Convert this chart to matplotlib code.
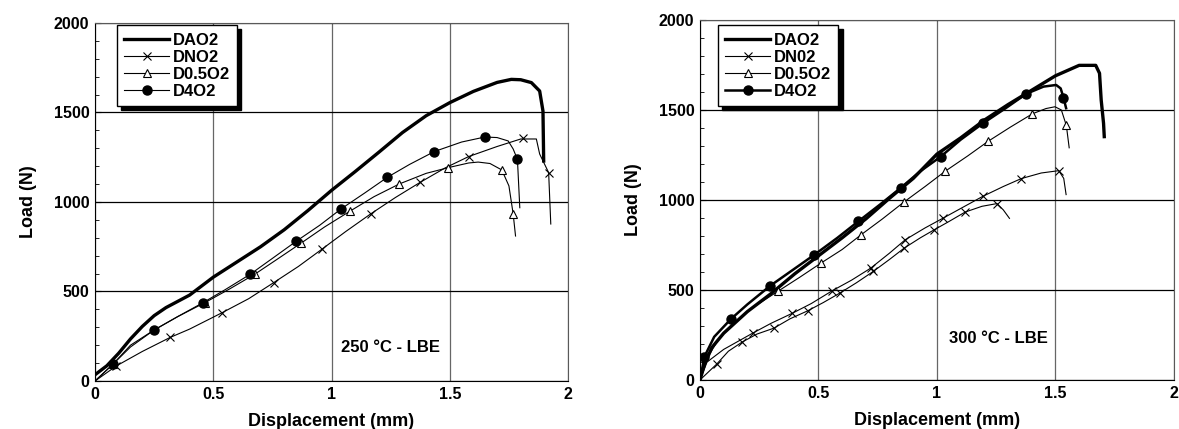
import numpy as np
import matplotlib
matplotlib.use("Agg")
import matplotlib.pyplot as plt
from matplotlib.lines import Line2D
from matplotlib.ticker import MultipleLocator

plt.rcParams['font.family'] = ['Liberation Sans', 'DejaVu Sans']
plt.rcParams['font.weight'] = 'bold'

# ---- 250 C data ----
dao2_250_x = [0, 0.05, 0.1, 0.15, 0.2, 0.25, 0.3, 0.4, 0.45, 0.5, 0.6, 0.7, 0.8, 0.9, 1.0, 1.1, 1.2, 1.3,
              1.4, 1.5, 1.6, 1.7, 1.76, 1.8, 1.845, 1.88, 1.894, 1.897]
dao2_250_y = [35, 85, 155, 235, 305, 365, 410, 480, 530, 580, 665, 750, 845, 952, 1065, 1170, 1278, 1388,
              1482, 1555, 1618, 1668, 1685, 1683, 1667, 1620, 1508, 1229]

dno2_250_x = [0, 0.09, 0.2, 0.317, 0.4, 0.538, 0.65, 0.756, 0.86, 0.96, 1.06, 1.165, 1.27, 1.375, 1.48,
              1.58, 1.7, 1.8, 1.866, 1.88, 1.918, 1.927]
dno2_250_y = [0, 84, 165, 243, 290, 382, 460, 550, 640, 737, 835, 933, 1025, 1110, 1190, 1254, 1310,
              1352, 1352, 1268, 1164, 877]
dno2_250_mx = [0.09, 0.317, 0.538, 0.756, 0.96, 1.165, 1.375, 1.58, 1.81, 1.918]
dno2_250_my = [84, 243, 382, 550, 737, 933, 1110, 1254, 1356, 1164]

d05o2_250_x = [0, 0.075, 0.15, 0.25, 0.35, 0.465, 0.57, 0.676, 0.77, 0.87, 0.97, 1.077, 1.18, 1.287, 1.4,
               1.5, 1.58, 1.62, 1.67, 1.72, 1.75, 1.768, 1.778]
d05o2_250_y = [0, 93, 190, 285, 360, 438, 515, 597, 680, 769, 860, 948, 1030, 1101, 1160, 1194, 1218,
               1223, 1215, 1179, 1090, 933, 810]
d05o2_250_mx = [0.075, 0.465, 0.676, 0.87, 1.077, 1.287, 1.494, 1.72, 1.768]
d05o2_250_my = [93, 438, 597, 769, 948, 1101, 1192, 1179, 933]

d4o2_250_x = [0, 0.075, 0.15, 0.25, 0.35, 0.457, 0.55, 0.657, 0.75, 0.85, 0.95, 1.04, 1.14, 1.236, 1.33,
              1.435, 1.55, 1.648, 1.7, 1.747, 1.768, 1.786, 1.796]
d4o2_250_y = [0, 93, 200, 285, 360, 438, 510, 597, 685, 780, 870, 961, 1050, 1138, 1210, 1282, 1335,
              1363, 1360, 1341, 1296, 1238, 968]
d4o2_250_mx = [0.075, 0.25, 0.457, 0.657, 0.85, 1.04, 1.236, 1.435, 1.648, 1.786]
d4o2_250_my = [93, 285, 438, 597, 780, 961, 1138, 1282, 1363, 1238]

# ---- 300 C data ----
dao2_300_x = [0, 0.02, 0.05, 0.1, 0.15, 0.2, 0.3, 0.4, 0.5, 0.6, 0.7, 0.8, 0.9, 1.0, 1.1, 1.2, 1.3, 1.4,
              1.5, 1.6, 1.67, 1.686, 1.693, 1.703, 1.706]
dao2_300_y = [0, 90, 180, 260, 320, 380, 480, 590, 690, 790, 895, 1010, 1120, 1255, 1345, 1444, 1530,
              1610, 1690, 1748, 1748, 1704, 1556, 1426, 1352]

d4o2_300_x = [0, 0.019, 0.06, 0.13, 0.2, 0.296, 0.39, 0.483, 0.58, 0.668, 0.76, 0.847, 0.93, 1.016, 1.1,
              1.193, 1.29, 1.377, 1.45, 1.503, 1.522, 1.534, 1.545]
d4o2_300_y = [0, 130, 240, 338, 420, 523, 610, 696, 790, 881, 975, 1067, 1160, 1241, 1335, 1425, 1510,
              1590, 1630, 1639, 1620, 1569, 1510]
d4o2_300_mx = [0.019, 0.13, 0.296, 0.483, 0.668, 0.847, 1.016, 1.193, 1.377, 1.534]
d4o2_300_my = [130, 338, 523, 696, 881, 1067, 1241, 1425, 1590, 1569]

d05o2_300_x = [0, 0.03, 0.08, 0.15, 0.22, 0.328, 0.42, 0.51, 0.6, 0.68, 0.77, 0.859, 0.95, 1.035, 1.13,
               1.217, 1.31, 1.403, 1.46, 1.498, 1.525, 1.546, 1.558]
d05o2_300_y = [0, 120, 230, 320, 400, 492, 570, 649, 725, 807, 895, 987, 1075, 1160, 1245, 1327, 1405,
               1479, 1508, 1518, 1500, 1414, 1290]
d05o2_300_mx = [0.328, 0.51, 0.68, 0.859, 1.035, 1.217, 1.403, 1.546]
d05o2_300_my = [492, 649, 807, 987, 1160, 1327, 1479, 1414]

dn02a_300_x = [0, 0.03, 0.1, 0.222, 0.3, 0.39, 0.47, 0.557, 0.64, 0.72, 0.8, 0.866, 0.95, 1.027, 1.11,
               1.193, 1.28, 1.356, 1.44, 1.514, 1.535, 1.545]
dn02a_300_y = [0, 100, 170, 260, 315, 371, 425, 495, 555, 621, 705, 779, 845, 900, 960, 1020, 1075,
               1119, 1150, 1163, 1120, 1030]
dn02a_300_mx = [0.222, 0.39, 0.557, 0.72, 0.866, 1.027, 1.193, 1.356, 1.514]
dn02a_300_my = [260, 371, 495, 621, 779, 900, 1020, 1119, 1163]

dn02b_300_x = [0, 0.071, 0.12, 0.177, 0.24, 0.312, 0.38, 0.454, 0.52, 0.589, 0.66, 0.731, 0.8, 0.862,
               0.93, 0.989, 1.05, 1.119, 1.19, 1.253, 1.28, 1.306]
dn02b_300_y = [0, 89, 160, 210, 255, 288, 340, 384, 430, 482, 540, 603, 670, 733, 790, 835, 880, 933,
               965, 980, 945, 898]
dn02b_300_mx = [0.071, 0.177, 0.312, 0.454, 0.589, 0.731, 0.862, 0.989, 1.119, 1.253]
dn02b_300_my = [89, 210, 288, 384, 482, 603, 733, 835, 933, 980]

x_ticks = [0, 0.5, 1, 1.5, 2]
x_tick_labels = ['0', '0.5', '1', '1.5', '2']
y_ticks = [0, 500, 1000, 1500, 2000]

MARK_X = dict(marker='x', markersize=6, markeredgewidth=0.8, color='black', linestyle='none')
MARK_T = dict(marker='^', markersize=6, markeredgewidth=0.8, markerfacecolor='white',
              markeredgecolor='black', linestyle='none')
MARK_O = dict(marker='o', markersize=6.5, color='black', linestyle='none')


def style_axes(ax):
    ax.set_xlim(0, 2)
    ax.set_ylim(0, 2000)
    ax.set_xticks(x_ticks)
    ax.set_xticklabels(x_tick_labels)
    ax.set_yticks(y_ticks)
    ax.yaxis.set_minor_locator(MultipleLocator(100))
    ax.tick_params(axis='both', which='both', direction='in', labelsize=11.5, pad=4)
    ax.tick_params(which='major', length=4)
    ax.tick_params(which='minor', length=3)
    ax.tick_params(axis='x', which='major', length=0)
    ax.grid(True, which='major', axis='y', color='black', linewidth=0.9)
    ax.grid(True, which='major', axis='x', color='0.4', linewidth=0.9)
    ax.set_axisbelow(True)
    for side in ['left', 'bottom']:
        ax.spines[side].set_color('black')
    for side in ['top', 'right']:
        ax.spines[side].set_color('0.35')
    ax.set_xlabel('Displacement (mm)', fontsize=13, fontweight='bold', labelpad=8)
    ax.set_ylabel('Load (N)', fontsize=13, fontweight='bold', labelpad=12)


def add_legend(ax, labels, lw_d4, anchor):
    handles = [
        Line2D([], [], color='black', linewidth=2.4),
        Line2D([], [], color='black', linewidth=0.8, marker='x', markersize=6, markeredgewidth=0.8),
        Line2D([], [], color='black', linewidth=0.8, marker='^', markersize=6, markeredgewidth=0.8,
               markerfacecolor='white'),
        Line2D([], [], color='black', linewidth=lw_d4, marker='o', markersize=6.5),
    ]
    leg = ax.legend(handles, labels, loc='upper left', bbox_to_anchor=anchor, borderaxespad=0,
                    numpoints=1, handlelength=2.7, handletextpad=0.2,
                    labelspacing=0.12, borderpad=0.45, fancybox=False, framealpha=1,
                    edgecolor='black', prop={'weight': 'bold', 'size': 12},
                    shadow={'color': 'black', 'alpha': 1, 'ox': 3, 'oy': -3})
    leg.get_frame().set_linewidth(1.0)
    leg.set_zorder(10)


fig = plt.figure(figsize=(11.79, 4.29), dpi=100)
ax1 = fig.add_axes([0.0806, 0.1119, 0.4012, 0.8345])
ax2 = fig.add_axes([0.5937, 0.1142, 0.4020, 0.8392])

# left panel: 250 C
ax1.plot(dao2_250_x, dao2_250_y, color='black', linewidth=2.4, zorder=4)
ax1.plot(dno2_250_x, dno2_250_y, color='black', linewidth=0.8, zorder=3)
ax1.plot(dno2_250_mx, dno2_250_my, zorder=5, **MARK_X)
ax1.plot(d05o2_250_x, d05o2_250_y, color='black', linewidth=0.8, zorder=3)
ax1.plot(d05o2_250_mx, d05o2_250_my, zorder=5, **MARK_T)
ax1.plot(d4o2_250_x, d4o2_250_y, color='black', linewidth=0.8, zorder=3)
ax1.plot(d4o2_250_mx, d4o2_250_my, zorder=5, **MARK_O)
style_axes(ax1)
ax1.text(1.25, 187, '250 °C - LBE', fontsize=12, fontweight='bold', ha='center', va='center')
add_legend(ax1, ['DAO2', 'DNO2', 'D0.5O2', 'D4O2'], 0.8, (0.046, 0.994))

# right panel: 300 C
ax2.plot(dao2_300_x, dao2_300_y, color='black', linewidth=2.4, zorder=4)
ax2.plot(d4o2_300_x, d4o2_300_y, color='black', linewidth=1.8, zorder=4)
ax2.plot(d4o2_300_mx, d4o2_300_my, zorder=5, **MARK_O)
ax2.plot(d05o2_300_x, d05o2_300_y, color='black', linewidth=0.8, zorder=3)
ax2.plot(d05o2_300_mx, d05o2_300_my, zorder=5, **MARK_T)
ax2.plot(dn02a_300_x, dn02a_300_y, color='black', linewidth=0.8, zorder=3)
ax2.plot(dn02a_300_mx, dn02a_300_my, zorder=5, **MARK_X)
ax2.plot(dn02b_300_x, dn02b_300_y, color='black', linewidth=0.8, zorder=3)
ax2.plot(dn02b_300_mx, dn02b_300_my, zorder=5, **MARK_X)
style_axes(ax2)
ax2.text(1.26, 232, '300 °C - LBE', fontsize=12, fontweight='bold', ha='center', va='center')
add_legend(ax2, ['DAO2', 'DN02', 'D0.5O2', 'D4O2'], 1.8, (0.038, 0.986))

fig.savefig('out.png', dpi=100)
